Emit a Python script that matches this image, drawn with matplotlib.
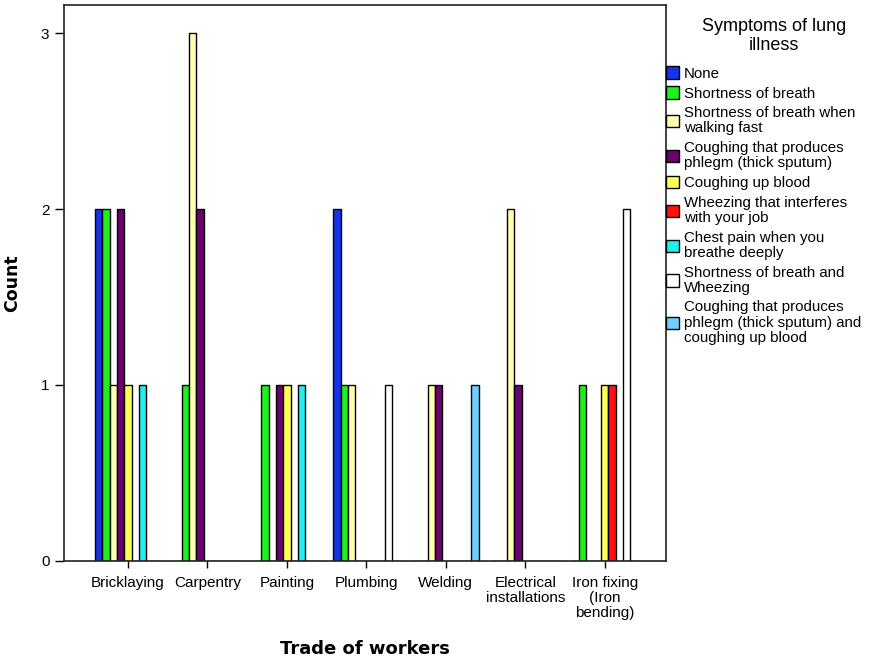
import matplotlib
matplotlib.use('Agg')
import matplotlib.pyplot as plt
import numpy as np

plt.rcParams['font.family'] = ['Liberation Sans', 'DejaVu Sans']

# Trades (x categories)
trades = ['Bricklaying', 'Carpentry', 'Painting', 'Plumbing', 'Welding',
          'Electrical\ninstallations', 'Iron fixing\n(Iron\nbending)']

# Symptom series (legend order)
symptoms = ['None',
            'Shortness of breath',
            'Shortness of breath when\nwalking fast',
            'Coughing that produces\nphlegm (thick sputum)',
            'Coughing up blood',
            'Wheezing that interferes\nwith your job',
            'Chest pain when you\nbreathe deeply',
            'Shortness of breath and\nWheezing',
            'Coughing that produces\nphlegm (thick sputum) and\ncoughing up blood']

# counts per trade for each symptom
none_counts        = [2, 0, 0, 2, 0, 0, 0]
sob_counts         = [2, 1, 1, 1, 0, 0, 1]
sob_fast_counts    = [1, 3, 0, 1, 1, 2, 0]
phlegm_counts      = [2, 2, 1, 0, 1, 1, 0]
blood_counts       = [1, 0, 1, 0, 0, 0, 1]
wheeze_counts      = [0, 0, 0, 0, 0, 0, 1]
chest_counts       = [1, 0, 1, 0, 0, 0, 0]
sob_wheeze_counts  = [0, 0, 0, 1, 0, 0, 2]
phlegm_blood_counts = [0, 0, 0, 0, 1, 0, 0]

series = [none_counts, sob_counts, sob_fast_counts, phlegm_counts, blood_counts,
          wheeze_counts, chest_counts, sob_wheeze_counts, phlegm_blood_counts]

colors = ['#1533e8', '#1ef01e', '#ffffb0', '#6b006e', '#ffff5a',
          '#ff1010', '#22eeee', '#ffffff', '#6ecfff']

fig = plt.figure(figsize=(8.76, 6.62), dpi=100)
fig.patch.set_facecolor('white')
ax = fig.add_axes([0.0731, 0.1526, 0.687, 0.8398])

x = np.arange(len(trades))
width = 0.092
n = len(series)
for k, (vals, col, lab) in enumerate(zip(series, colors, symptoms)):
    ax.bar(x + (k - (n - 1) / 2) * width, vals, width, color=col,
           edgecolor='black', linewidth=1.0, label=lab)

ax.set_xlim(-0.805, 6.77)
ax.set_ylim(0, 3.159)
ax.set_yticks([0, 1, 2, 3])
ax.set_xticks(x)
ax.set_xticklabels(trades, fontsize=11, linespacing=1.1)
ax.tick_params(axis='y', direction='out', length=6.5, width=1, labelsize=11, pad=4)
ax.tick_params(axis='x', direction='out', length=5, width=1, pad=6)

for s in ax.spines.values():
    s.set_linewidth(1.2)
    s.set_color('#222222')

ax.set_xlabel('Trade of workers', fontsize=13, fontweight='bold',
              family='DejaVu Sans', labelpad=14)
ax.set_ylabel('Count', fontsize=12.5, fontweight='bold',
              family='DejaVu Sans', labelpad=14)

# legend title drawn separately so its gap to the entries can be set
fig.text(0.884, 0.945, 'Symptoms of lung\nillness', fontsize=13, ha='center',
         va='center', multialignment='center', linespacing=1.15)

leg = fig.legend(loc='upper left', bbox_to_anchor=(0.760, 0.900), frameon=False,
                 fontsize=10.8, handlelength=0.9, handleheight=0.9,
                 handletextpad=0.3, labelspacing=0.38, borderpad=0,
                 borderaxespad=0)
for t in leg.get_texts():
    t.set_linespacing(1.1)

plt.savefig('out.png', dpi=100, facecolor=fig.get_facecolor())
